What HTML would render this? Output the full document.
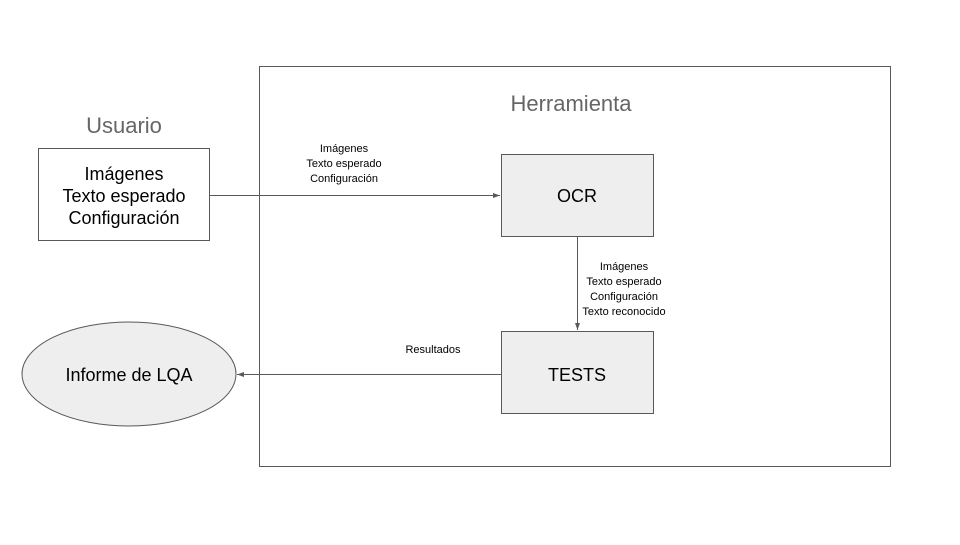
<!DOCTYPE html>
<html><head><meta charset="utf-8"><style>
body{margin:0;background:#fff}
svg text{font-family:"Liberation Sans",Arial,sans-serif}
</style></head><body>
<svg width="960" height="540" viewBox="0 0 960 540" xmlns="http://www.w3.org/2000/svg">
<defs><marker id="a" markerWidth="8" markerHeight="8" refX="7" refY="4" orient="auto" markerUnits="userSpaceOnUse"><path d="M0,1.5 L7,4 L0,6.5 z" fill="#595959"/></marker></defs>
<rect x="259.5" y="66.5" width="631" height="400" fill="none" stroke="#595959" stroke-width="1"/>
<text x="571" y="111" font-size="22" fill="#666" text-anchor="middle">Herramienta</text>
<text x="124" y="133" font-size="22" fill="#666" text-anchor="middle">Usuario</text>
<rect x="38.5" y="148.5" width="171" height="92" fill="#fff" stroke="#595959"/>
<g font-size="18" fill="#000" text-anchor="middle">
<text x="124" y="180">Imágenes</text>
<text x="124" y="202">Texto esperado</text>
<text x="124" y="224">Configuración</text>
</g>
<rect x="501.5" y="154.5" width="152" height="82" fill="#eee" stroke="#595959"/>
<text x="577" y="202" font-size="18" text-anchor="middle">OCR</text>
<rect x="501.5" y="331.5" width="152" height="82" fill="#eee" stroke="#595959"/>
<text x="577" y="381" font-size="18" text-anchor="middle">TESTS</text>
<ellipse cx="129" cy="374" rx="107" ry="52" fill="#eee" stroke="#595959"/>
<text x="129" y="381" font-size="18" text-anchor="middle">Informe de LQA</text>
<line x1="209" y1="195.5" x2="500" y2="195.5" stroke="#595959" marker-end="url(#a)"/>
<line x1="577.5" y1="236" x2="577.5" y2="330" stroke="#595959" marker-end="url(#a)"/>
<line x1="501" y1="374.5" x2="237" y2="374.5" stroke="#595959" marker-end="url(#a)"/>
<g font-size="11" fill="#000" text-anchor="middle">
<text x="344" y="152">Imágenes</text>
<text x="344" y="167">Texto esperado</text>
<text x="344" y="182">Configuración</text>
<text x="624" y="270">Imágenes</text>
<text x="624" y="285">Texto esperado</text>
<text x="624" y="300">Configuración</text>
<text x="624" y="315">Texto reconocido</text>
<text x="433" y="353">Resultados</text>
</g>
</svg>
</body></html>
